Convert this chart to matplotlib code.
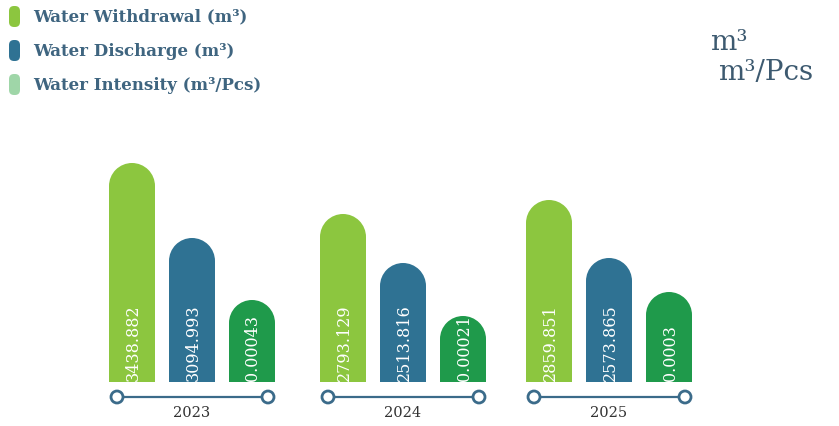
# Water withdrawal / discharge / intensity infographic bars
import matplotlib.pyplot as plt
from matplotlib.patches import Wedge, Circle, FancyBboxPatch

years = ["2023", "2024", "2025"]
series = ["Water Withdrawal (m³)", "Water Discharge (m³)", "Water Intensity (m³/Pcs)"]
withdrawal = ["3438.882", "2793.129", "2859.851"]
discharge = ["3094.993", "2513.816", "2573.865"]
intensity = ["0.00043", "0.00021", "0.0003"]
# displayed bar heights (infographic, not to scale)
h_withdrawal = [219, 168, 182]
h_discharge = [144, 119, 124]
h_intensity = [82, 66, 90]

colores = ["#8cc63f", "#2f7293", "#1f9a4b"]
color_leyenda = ["#8cc63f", "#2f7293", "#9fd6a8"]
texto_color = "#3f6580"

W, H = 839, 426
fig = plt.figure(figsize=(W / 100, H / 100), dpi=100)
ax = fig.add_axes([0, 0, 1, 1])
ax.set_xlim(0, W)
ax.set_ylim(0, H)
ax.axis('off')

base = H - 382
ancho = 46
r = ancho / 2
centros = [192, 403, 609]
desp = [-60, 0, 60]

alturas = [h_withdrawal, h_discharge, h_intensity]
etiquetas = [withdrawal, discharge, intensity]

for g, cx in enumerate(centros):
    for s in range(3):
        x = cx + desp[s]
        h = alturas[s][g]
        ax.bar(x, h - r, bottom=base, width=ancho, color=colores[s], linewidth=0)
        ax.add_patch(Wedge((x, base + h - r), r, 0, 180, color=colores[s], linewidth=0))
        ax.text(x + 1, base + 1, etiquetas[s][g], rotation=90, ha='center', va='bottom',
                color='white', fontsize=11.5, family='DejaVu Serif')
    # linea inferior con circulos
    y_l = H - 397
    x0, x1 = cx - 75, cx + 76
    ax.plot([x0, x1], [y_l, y_l], color="#3b6b8a", lw=1.6, zorder=2)
    for xc in (x0, x1):
        ax.add_patch(Circle((xc, y_l), 6, facecolor='white', edgecolor="#3b6b8a", lw=2, zorder=3))
    ax.text(cx, H - 413, years[g], ha='center', va='center', fontsize=10.5,
            color="#333333", family='DejaVu Serif')

# leyenda
for i, nombre in enumerate(series):
    yc = H - (17 + i * 34)
    ax.add_patch(FancyBboxPatch((9, yc - 10), 11, 21, boxstyle="round,pad=0,rounding_size=5",
                                facecolor=color_leyenda[i], edgecolor='none'))
    ax.text(33, yc, nombre, ha='left', va='center', fontsize=12, color=texto_color,
            family='DejaVu Serif', fontweight='bold')

# unidades arriba a la derecha
ax.text(710, H - 42, "m³", ha='left', va='center', fontsize=20, color="#3d5a70",
        family='DejaVu Serif')
ax.text(718, H - 72, "m³/Pcs", ha='left', va='center', fontsize=20, color="#3d5a70",
        family='DejaVu Serif')

fig.savefig("out.png", dpi=100)
